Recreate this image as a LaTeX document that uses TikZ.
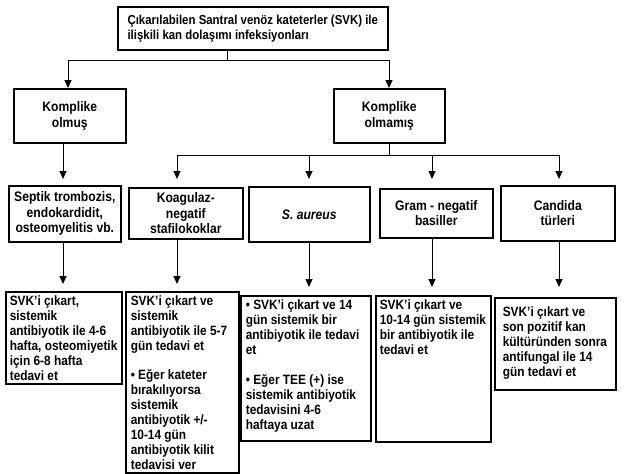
\documentclass[tikz,border=0pt]{standalone}
\usepackage{fontspec}
\setmainfont{Liberation Sans}[FakeStretch=0.88]
\usetikzlibrary{arrows.meta}
\newcommand{\btxt}[5]{\parbox[t][#2][t]{#1}{\vspace*{#4}\raggedright\leftskip=#3\relax #5}}
\begin{document}
\begin{tikzpicture}[x=1pt,y=-1pt,
  frame/.style={draw, line width=1.6pt, inner sep=0pt, anchor=north west},
  topfont/.style={font=\bfseries\fontsize{13}{15}\selectfont},
  midfont/.style={font=\bfseries\fontsize{13.8}{15.5}\selectfont},
  botfont/.style={font=\bfseries\fontsize{13.5}{15}\selectfont},
  conn/.style={line width=0.9pt},
  arr/.style={conn, -{Triangle[length=8pt,width=7pt]}}]
\useasboundingbox (0,0) rectangle (627,474);
% top
\node[frame, topfont, align=left, minimum width=270pt, minimum height=43pt] (T) at (117,6)
  {Çıkarılabilen Santral venöz kateterler (SVK) ile\\ilişkili kan dolaşımı infeksiyonları};
% second level
\node[frame, midfont, align=center, minimum width=112pt, minimum height=54pt] (KO) at (13,88) {Komplike\\olmuş};
\node[frame, midfont, align=center, minimum width=111pt, minimum height=54pt] (KM) at (333,88) {Komplike\\olmamış};
% third level
\node[frame, midfont, align=center, minimum width=112pt, minimum height=56pt] (S1) at (8,185) {Septik trombozis,\\endokardidit,\\osteomyelitis vb.};
\node[frame, midfont, align=center, minimum width=114pt, minimum height=51pt] (S2) at (128,187) {Koagulaz-\\negatif\\stafilokoklar};
\node[frame, midfont, align=center, minimum width=121pt, minimum height=55pt] (S3) at (248,186) {\itshape S. aureus};
\node[frame, midfont, align=center, minimum width=113pt, minimum height=49pt] (S4) at (379,188) {Gram - negatif\\basiller};
\node[frame, midfont, align=center, minimum width=114pt, minimum height=55pt] (S5) at (500,185) {Candida\\türleri};
% bottom level
\node[frame, botfont] (A) at (5,291) {\btxt{116pt}{92pt}{4pt}{4pt}{SVK'i çıkart,\\ sistemik\\ antibiyotik ile 4-6\\ hafta, osteomiyetik\\ için 6-8 hafta\\ tedavi et}};
\node[frame, botfont] (B) at (125,291) {\btxt{113pt}{181pt}{5pt}{4pt}{SVK'i çıkart ve\\ sistemik\\ antibiyotik ile 5-7\\ gün tedavi et\\[14pt] • Eğer kateter\\ bırakılıyorsa\\ sistemik\\ antibiyotik +/-\\ 10-14 gün\\ antibiyotik kilit\\ tedavisi ver}};
\node[frame, botfont] (C) at (240,295) {\btxt{130pt}{145pt}{5pt}{4pt}{• SVK'i çıkart ve 14\\ gün sistemik bir\\ antibiyotik ile tedavi\\ et\\[15pt] • Eğer TEE (+) ise\\ sistemik antibiyotik\\ tedavisini 4-6\\ haftaya uzat}};
\node[frame, botfont] (D) at (375,295) {\btxt{115pt}{146pt}{4pt}{4pt}{SVK'i çıkart ve\\ 10-14 gün sistemik\\ bir antibiyotik ile\\ tedavi et}};
\node[frame, botfont] (E) at (494,297) {\btxt{121pt}{92pt}{8pt}{9pt}{SVK'i çıkart ve\\ son pozitif kan\\ kültüründen sonra\\ antifungal ile 14\\ gün tedavi et}};
% junction coordinates
\coordinate (j1) at (227,60);
\coordinate (jl) at (68,60);
\coordinate (jr) at (389,60);
\coordinate (c1) at (63,0);
\coordinate (j2) at (389,155);
\coordinate (b2) at (177,155);
\coordinate (b3) at (309,155);
\coordinate (b4) at (432,155);
\coordinate (b5) at (559,155);
% connectors
\draw[conn] (T.south -| j1) -- (j1);
\draw[conn] (jl) -- (jr);
\draw[arr] (jl) -- (KO.north -| jl);
\draw[arr] (jr) -- (KM.north -| jr);
\draw[arr, shorten >=6pt] (KO.south -| c1) -- (S1.north -| c1);
\draw[conn] (KM.south -| j2) -- (j2);
\draw[conn] (b2) -- (b5);
\draw[arr, shorten >=8pt] (b2) -- (S2.north -| b2);
\draw[arr, shorten >=7pt] (b3) -- (S3.north -| b3);
\draw[arr, shorten >=9pt] (b4) -- (S4.north -| b4);
\draw[arr, shorten >=6pt] (b5) -- (S5.north -| b5);
\draw[arr, shorten >=7pt] (S1.south -| c1) -- (A.north -| c1);
\draw[arr, shorten >=7pt] (S2.south -| b2) -- (B.north -| b2);
\draw[arr, shorten >=8pt] (S3.south -| b3) -- (C.north -| b3);
\draw[arr, shorten >=8pt] (S4.south -| b4) -- (D.north -| b4);
\draw[arr, shorten >=10pt] (S5.south -| b5) -- (E.north -| b5);
\end{tikzpicture}
\end{document}
